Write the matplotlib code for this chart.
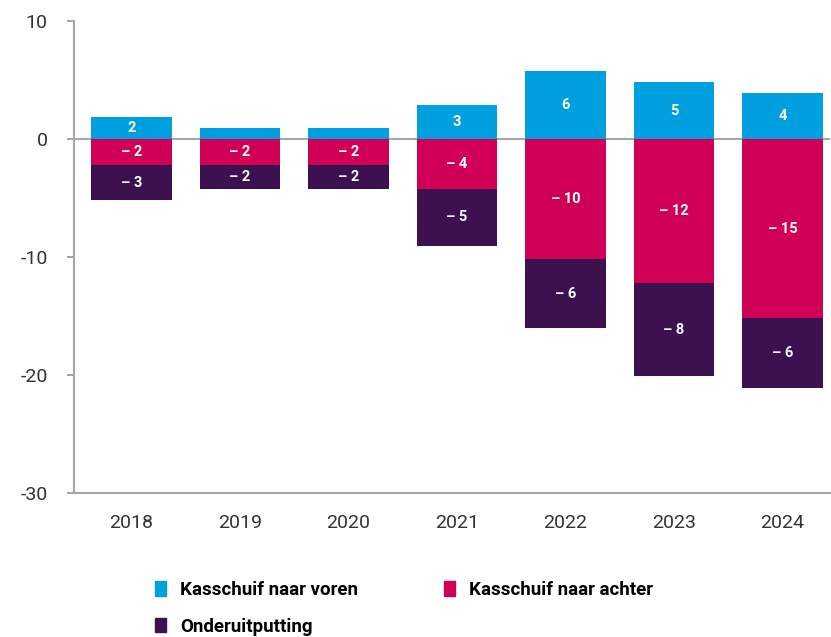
import matplotlib
matplotlib.use("Agg")
import numpy as np
from matplotlib import pyplot as plt
from matplotlib.patches import Patch

plt.rcParams['font.family'] = ['Roboto', 'DejaVu Sans']
plt.rcParams['axes.unicode_minus'] = False

years = ['2018', '2019', '2020', '2021', '2022', '2023', '2024']
naar_voren = [1.9, 0.9, 0.9, 2.9, 5.8, 4.8, 3.9]
naar_achter = [-2.2, -2.2, -2.2, -4.2, -10.2, -12.2, -15.2]
onderuitputting = [-3.0, -2.0, -2.0, -4.9, -5.8, -7.9, -5.9]
labels_voren = ['2', '', '', '3', '6', '5', '4']
labels_achter = ['– 2', '– 2', '– 2', '– 4', '– 10', '– 12', '– 15']
labels_onder = ['– 3', '– 2', '– 2', '– 5', '– 6', '– 8', '– 6']

BLUE = '#009fe0'
RED = '#d00056'
PURPLE = '#3d1150'
GRID = '#a6a6a6'

fig = plt.figure(figsize=(8.31, 6.37), dpi=100)
ax = fig.add_axes([0.089, 0.226, 0.91, 0.741])

x = np.arange(len(years))
w = 0.74
ax.axhline(0, color=GRID, lw=1.5, zorder=1)
ax.bar(x, naar_voren, w, color=BLUE, zorder=2)
ax.bar(x, naar_achter, w, color=RED, zorder=2)
ax.bar(x, onderuitputting, w, bottom=naar_achter, color=PURPLE, zorder=2)

txt = dict(color='white', fontsize=10.5, fontweight='bold', ha='center', va='center', zorder=3)
for i in range(len(years)):
    if labels_voren[i]:
        ax.text(x[i], naar_voren[i] / 2, labels_voren[i], **txt)
    ax.text(x[i], naar_achter[i] / 2, labels_achter[i], **txt)
    ax.text(x[i], naar_achter[i] + onderuitputting[i] / 2, labels_onder[i], **txt)

ax.set_xlim(-0.53, 6.44)
ax.set_ylim(-30, 10)
ax.set_yticks([10, 0, -10, -20, -30])
ax.set_xticks(x)
ax.set_xticklabels(years)
for s in ['top', 'right']:
    ax.spines[s].set_visible(False)
for s in ['left', 'bottom']:
    ax.spines[s].set_color(GRID)
    ax.spines[s].set_linewidth(1.5)
ax.tick_params(axis='y', length=5, width=1.5, color=GRID, pad=14, labelsize=14, labelcolor='#333333')
ax.tick_params(axis='x', length=0, pad=15, labelsize=14, labelcolor='#333333')

handles = [Patch(color=BLUE, label='Kasschuif naar voren'),
           Patch(color=PURPLE, label='Onderuitputting'),
           Patch(color=RED, label='Kasschuif naar achter')]
fig.legend(handles=handles, ncol=2, loc='upper left', bbox_to_anchor=(0.186, 0.088),
           frameon=False, prop={'weight': 'bold', 'size': 13.5},
           handlelength=0.6, handleheight=0.8, handletextpad=0.75,
           columnspacing=4.6, labelspacing=1.0, borderaxespad=0, borderpad=0)

fig.savefig('out.png', dpi=100)
